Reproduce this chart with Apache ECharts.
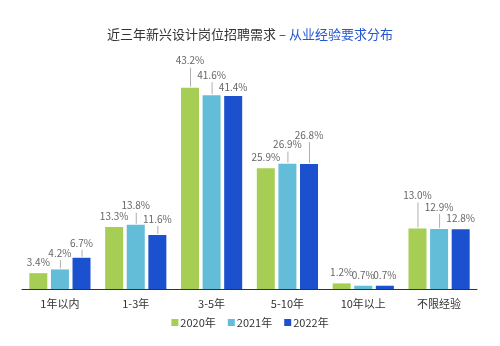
<!DOCTYPE html>
<html>
<head>
<meta charset="utf-8">
<script src="https://cdn.jsdelivr.net/npm/echarts@6/dist/echarts.min.js"></script>
<style>html,body{margin:0;padding:0;background:#fff}#c{width:500px;height:346px}</style>
</head>
<body>
<div id="c"></div>
<script>
const categories = ['1年以内', '1-3年', '3-5年', '5-10年', '10年以上', '不限经验'];
const years = ['2020年', '2021年', '2022年'];
const v2020 = [3.4, 13.3, 43.2, 25.9, 1.2, 13.0];
const v2021 = [4.2, 13.8, 41.6, 26.9, 0.7, 12.9];
const v2022 = [6.7, 11.6, 41.4, 26.8, 0.7, 12.8];
// extra lift (px) of each value label above its default spot
const lift2020 = [0, 0, 16, 0, 0, 22];
const lift2021 = [5.5, 8, 9, 8, 0, 11];
const lift2022 = [4, 5, -2, 18, 0, 0];

const colors = ['#A6CE55', '#63BDD9', '#1B50CF'];
const BAR_W = 18, BAR_GAP = 0.2;
const FONT = '"Noto Sans CJK SC", "Noto Sans", sans-serif';

const values = [v2020, v2021, v2022];
const lifts = [lift2020, lift2021, lift2022];
const labelData = [];
values.forEach((arr, s) => arr.forEach((v, i) => labelData.push([i, v, s, lifts[s][i]])));

const chart = echarts.init(document.getElementById('c'), null, {renderer: 'canvas'});
chart.setOption({
  animation: false,
  color: colors,
  title: {
    text: '{a|近三年新兴设计岗位招聘需求 – }{b|从业经验要求分布}',
    left: 'center',
    top: 23,
    textStyle: {
      rich: {
        a: {fontSize: 13, color: '#333', fontWeight: 'normal', fontFamily: FONT},
        b: {fontSize: 13, color: '#2457D0', fontWeight: 'normal', fontFamily: FONT}
      }
    }
  },
  legend: {
    data: years,
    bottom: 13,
    left: 'center',
    icon: 'rect',
    itemWidth: 7,
    itemHeight: 7,
    itemGap: 12,
    textStyle: {fontSize: 11, color: '#333', fontFamily: FONT, padding: [0, 0, 0, -3]}
  },
  grid: {left: 22, right: 23, top: 56, bottom: 57, containLabel: false},
  xAxis: {
    type: 'category',
    data: categories,
    axisLine: {lineStyle: {color: '#333', width: 1}},
    axisTick: {show: false},
    axisLabel: {fontSize: 11, color: '#333', margin: 9, fontFamily: FONT}
  },
  yAxis: {
    type: 'value',
    min: 0,
    max: 50,
    show: false,
    splitLine: {show: false}
  },
  series: [
    ...years.map((y, s) => ({
      name: y,
      type: 'bar',
      data: values[s],
      barWidth: BAR_W,
      barGap: (BAR_GAP * 100) + '%',
      itemStyle: {color: colors[s]}
    })),
    {
      type: 'custom',
      silent: true,
      z: 5,
      data: labelData,
      encode: {x: 0, y: 1},
      renderItem: function (params, api) {
        const cat = api.value(0), val = api.value(1), s = api.value(2), lift = api.value(3);
        const pt = api.coord([cat, val]);
        const x = pt[0] + (s - 1) * BAR_W * (1 + BAR_GAP);
        const top = pt[1];
        const ty = top - 11 - lift;
        const children = [{
          type: 'text',
          style: {
            x: x, y: ty,
            text: val.toFixed(1) + '%',
            fill: '#666',
            font: '10px ' + FONT,
            textAlign: 'center',
            textVerticalAlign: 'middle'
          }
        }];
        if (lift > 2) {
          children.push({
            type: 'line',
            shape: {x1: x + 0.5, y1: ty + 7, x2: x + 0.5, y2: top - 1},
            style: {stroke: '#AFAFAF', lineWidth: 1}
          });
        }
        return {type: 'group', children: children};
      }
    }
  ]
});
</script>
</body>
</html>
